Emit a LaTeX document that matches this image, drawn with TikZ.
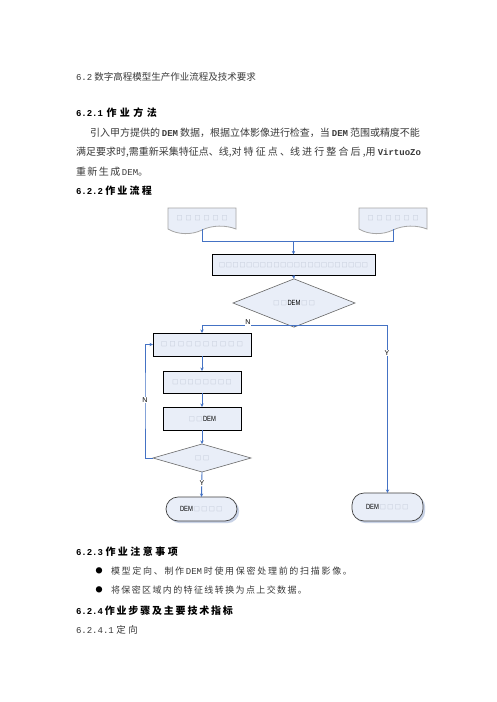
\documentclass[tikz,border=0pt]{standalone}
\usepackage{fontspec}
\setmainfont{Noto Sans CJK SC}
\newfontfamily\mono{Liberation Mono}
\newfontfamily\lsans{Liberation Sans}
\usetikzlibrary{calc,shapes.geometric,arrows.meta,shadows}
\definecolor{fillc}{HTML}{E9EEF8}
\definecolor{linec}{HTML}{4472C4}
\definecolor{txt}{HTML}{3A3A3A}
\definecolor{sqc}{HTML}{A8B0C0}
\definecolor{shadc}{HTML}{C8D2E6}
\newcommand\mn[1]{{\mono\fontsize{9}{10}\selectfont #1}}
\newcommand\mnb[1]{{\mono\bfseries\fontsize{9}{10}\selectfont #1}}
\newcommand\sqrow[2]{\foreach \k in {1,...,#1}{\makebox[#2]{\fontsize{6}{7}\selectfont\color{sqc}□}}}
\newcommand\flowdem{\scalebox{0.78}[1]{\lsans\fontsize{7.5}{8}\selectfont DEM}}
\begin{document}
\begin{tikzpicture}[x=1pt,y=-1pt,
  every node/.style={inner sep=0pt,outer sep=0pt},
  hd/.style={anchor=west,font=\bfseries\fontsize{10}{12}\selectfont,text=black},
  bd/.style={anchor=west,font=\fontsize{10}{12}\selectfont,text=txt},
  bl/.style={anchor=west,font=\fontsize{9}{11}\selectfont,text=txt},
  conn/.style={draw=linec,line width=0.9pt},
  arr/.style={conn,-{Stealth[length=3.5pt,width=3.2pt]}},
  docbox/.style={minimum width=68pt,minimum height=21pt},
  docline/.style={fill=fillc,draw=gray!70,line width=0.8pt},
  procbox/.style={draw=black,line width=0.8pt,fill=fillc},
  decbox/.style={diamond,draw=gray!80!black,line width=0.6pt,fill=fillc},
  termbox/.style={rounded corners=12pt,draw=gray!50!black,line width=0.7pt,fill=fillc,
    drop shadow={shadow xshift=2.2pt,shadow yshift=-2.2pt,fill=shadc,opacity=1}},
  lbl/.style={fill=white,inner sep=0.6pt,font=\lsans\fontsize{7}{8}\selectfont}
]
\fill[white] (0,0) rectangle (496,702);
\useasboundingbox (0,0) rectangle (496,702);

% ---- text above ----
\node[anchor=west,font=\fontsize{9.5}{11}\selectfont,text=txt] (h62) at (76,77) {\mn{6.2} 数字高程模型生产作业流程及技术要求};
\node[hd] (h621) at (76,113) {\makebox[81pt][s]{\mn{6.2.1} 作 业 方 法}};
\node[bd] (p1) at (90,133) {\makebox[330pt][s]{引入甲方提供的 \mnb{DEM} 数据，根据立体影像进行检查，当 \mnb{DEM} 范围或精度不能}};
\node[bd] (p2) at (76,152) {\makebox[345pt][s]{满足要求时,需重新采集特征点、线,对 特 征 点 、线 进 行 整 合 后 ,用 \mnb{VirtuoZo}}};
\node[bd] (p3) at (76,172) {\makebox[72pt][s]{重 新 生 成 \mn{DEM}。}};
\node[hd] (h622) at (76,191) {\makebox[76pt][s]{\mn{6.2.2} 作 业 流 程}};

% ---- flowchart ----
\node[docbox] (docL) at (202,218.5) {};
\node[docbox] (docR) at (393,218.5) {};
\path[docline] (docL.north west) -- (docL.north east) -- (docL.south east)
  .. controls ($(docL.south)+(24,-4)$) and ($(docL.south)+(10,-4)$) .. ($(docL.south)+(0,1)$)
  .. controls ($(docL.south)+(-10,6)$) and ($(docL.south)+(-24,6)$) .. (docL.south west) -- cycle;
\path[docline] (docR.north west) -- (docR.north east) -- (docR.south east)
  .. controls ($(docR.south)+(24,-4)$) and ($(docR.south)+(10,-4)$) .. ($(docR.south)+(0,1)$)
  .. controls ($(docR.south)+(-10,6)$) and ($(docR.south)+(-24,6)$) .. (docR.south west) -- cycle;
\node[docbox] (docLt) at (docL) {\sqrow{6}{9pt}};
\node[docbox] (docRt) at (docR) {\sqrow{6}{9pt}};

\node[procbox,minimum width=163pt,minimum height=21pt] (box) at (293.5,265) {\sqrow{22}{6.8pt}};
\node[decbox,minimum width=122pt,minimum height=27pt] (dia1) at (294,303) {\sqrow{2}{7.5pt}\flowdem\sqrow{2}{7.5pt}};
\node[procbox,minimum width=98pt,minimum height=23pt] (box1) at (202,344.5) {\sqrow{10}{8.4pt}};
\node[procbox,minimum width=78pt,minimum height=22pt] (box2) at (202,382) {\sqrow{8}{7.6pt}};
\node[procbox,minimum width=78pt,minimum height=23pt] (box3) at (202,418.5) {\sqrow{2}{7.5pt}\flowdem};
\node[decbox,minimum width=98pt,minimum height=28pt] (dia2) at (202,458) {\sqrow{2}{8pt}};
\node[termbox,minimum width=71pt,minimum height=24pt] (termL) at (201.5,509) {\flowdem\sqrow{4}{7.5pt}};
\node[termbox,minimum width=71pt,minimum height=28pt] (termR) at (387.5,507) {\flowdem\sqrow{4}{7.5pt}};

\coordinate (jM) at (293.5,241);
\coordinate (jN) at (294,325);
\coordinate (lp) at (145,400);

\draw[conn] (docL.south) -- (docL.south |- jM) -- (docR.south |- jM) -- (docR.south);
\draw[arr] (jM) -- (box.north);
\draw[arr] (box.south) -- (dia1.north);
\draw[arr] (dia1.south) -- (jN) -| (box1.north);
\draw[arr] (jN) -| (termR.north);
\draw[arr] (box1.south) -- (box2.north);
\draw[arr] (box2.south) -- (box3.north);
\draw[arr] (box3.south) -- (dia2.north);
\draw[arr] (dia2.south) -- (termL.north);
\draw[arr] (dia2.west) -| (lp) |- (box1.west);

\node[lbl] (lN1) at (248,322.5) {N};
\node[lbl] (lY1) at (387,353) {Y};
\node[lbl] (lN2) at (lp) {N};
\node[lbl] (lY2) at (202,483) {Y};

% ---- text below ----
\node[hd] (h623) at (76,552) {\makebox[102pt][s]{\mn{6.2.3} 作 业 注 意 事 项}};
\node[anchor=center,font=\fontsize{7}{8}\selectfont,text=black] (b1) at (99,571) {●};
\node[bl] (t1) at (111,571) {\makebox[241pt][s]{模 型 定 向 、 制 作 \mn{DEM} 时 使 用 保 密 处 理 前 的 扫 描 影 像 。}};
\node[anchor=center,font=\fontsize{7}{8}\selectfont,text=black] (b2) at (99,590) {●};
\node[bl] (t2) at (111,590) {\makebox[196pt][s]{将 保 密 区 域 内 的 特 征 线 转 换 为 点 上 交 数 据 。}};
\node[hd] (h624) at (76,611) {\makebox[157pt][s]{\mn{6.2.4} 作 业 步 骤 及 主 要 技 术 指 标}};
\node[bl,font=\fontsize{9.5}{11}\selectfont] (h6241) at (76,630) {\makebox[62pt][s]{\mn{6.2.4.1} 定 向}};
\end{tikzpicture}
\end{document}
